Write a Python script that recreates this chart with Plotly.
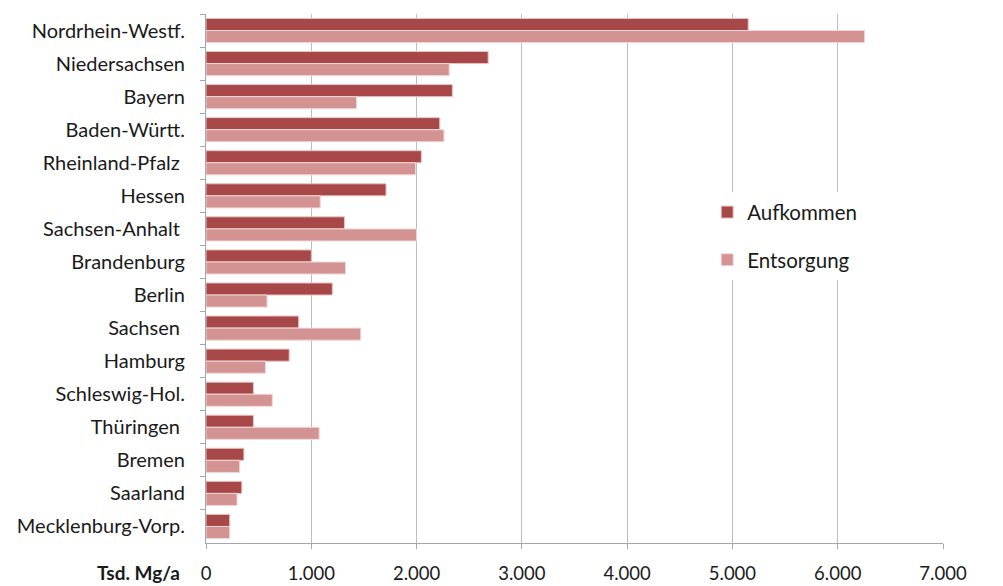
import plotly.graph_objects as go

# Bundesländer, top to bottom
laender = [
    "Nordrhein-Westf.", "Niedersachsen", "Bayern", "Baden-Württ.",
    "Rheinland-Pfalz ", "Hessen", "Sachsen-Anhalt ", "Brandenburg",
    "Berlin", "Sachsen ", "Hamburg", "Schleswig-Hol.", "Thüringen ",
    "Bremen", "Saarland", "Mecklenburg-Vorp.",
]

# Tsd. Mg/a
aufkommen = [5150, 2680, 2340, 2220, 2045, 1710, 1315, 1000,
             1200, 880, 790, 450, 450, 360, 340, 225]
entsorgung = [6255, 2310, 1430, 2260, 1990, 1085, 2000, 1325,
              580, 1470, 565, 630, 1075, 320, 295, 225]

tick_values = [0, 1000, 2000, 3000, 4000, 5000, 6000, 7000]
tick_labels = ["0", "1.000", "2.000", "3.000", "4.000", "5.000", "6.000", "7.000"]

FONT = "Lato"
TEXT = "#1a1a1a"

fig = go.Figure()
fig.add_trace(go.Bar(
    y=laender, x=aufkommen, orientation="h", name="Aufkommen",
    marker=dict(color="#A84747", line=dict(color="#E8C4C4", width=1)),
    legendgroup="a",
))
fig.add_trace(go.Bar(
    y=laender, x=entsorgung, orientation="h", name="Entsorgung",
    marker=dict(color="#D49393", line=dict(color="#F0D8D8", width=1)),
    legendgroup="e",
))

fig.update_layout(
    width=1003, height=586,
    margin=dict(l=206, r=60, t=14, b=43),
    paper_bgcolor="white", plot_bgcolor="white",
    barmode="group", bargap=0.27, bargroupgap=0,
    font=dict(family=FONT, size=20, color=TEXT),
    showlegend=True,
    legend=dict(
        x=0.68, y=0.663, xanchor="left", yanchor="top",
        bgcolor="white", font=dict(size=20.5, family=FONT, color=TEXT),
        tracegroupgap=18, itemwidth=30,
    ),
    xaxis=dict(
        range=[0, 7000], tickvals=tick_values, ticktext=tick_labels,
        showgrid=True, gridcolor="#BDBDBD", gridwidth=1,
        showline=True, linecolor="#A6A6A6", linewidth=1,
        ticks="outside", ticklen=5, tickcolor="#A6A6A6",
        tickfont=dict(size=18.5, family=FONT, color=TEXT), zeroline=False,
        ticklabelstandoff=9, automargin=False,
    ),
    yaxis=dict(
        autorange="reversed", showline=True, linecolor="#A6A6A6",
        ticks="outside", ticklen=5, tickcolor="#A6A6A6",
        tickson="boundaries", showgrid=False, automargin=False,
        tickfont=dict(size=20, family=FONT, color=TEXT), ticklabelstandoff=16,
    ),
)

fig.add_annotation(
    text="<b>Tsd. Mg/a</b>", xref="paper", yref="paper",
    x=-0.0326, y=-0.0567, xanchor="right", yanchor="middle",
    showarrow=False, font=dict(size=19, family=FONT, color=TEXT),
)

fig.write_html("out.html")
